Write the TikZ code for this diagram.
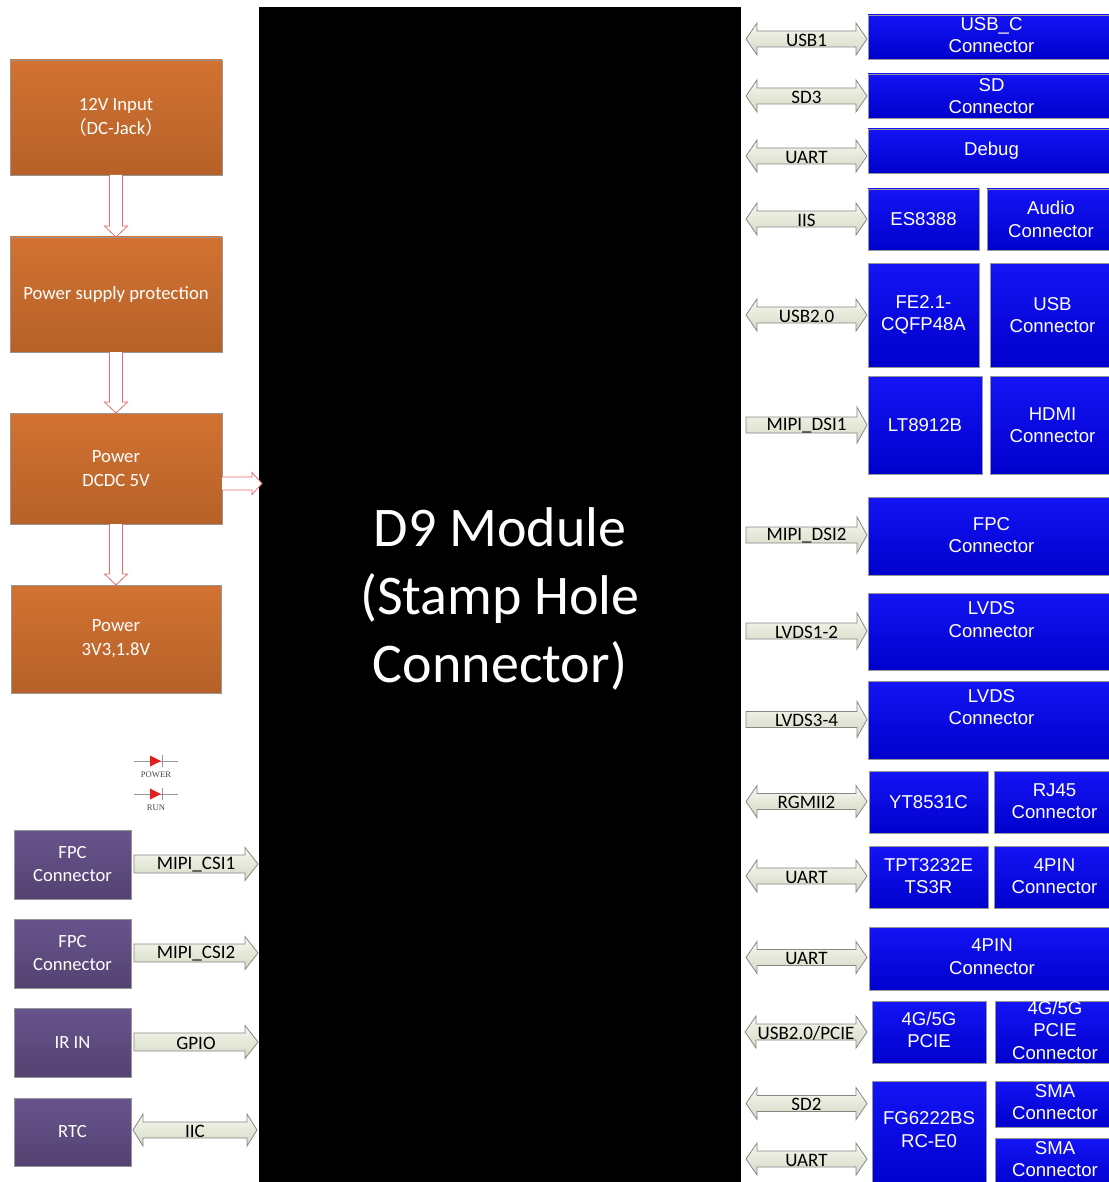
\documentclass[tikz,border=0pt]{standalone}
\usepackage{fontspec}
\setmainfont{Carlito}
\newfontfamily\arialf{Liberation Sans}
\newfontfamily\timesf{Liberation Serif}
\newfontfamily\cjkf{Noto Sans CJK SC}
\usetikzlibrary{calc,fit}
\definecolor{orT}{RGB}{210,114,50}
\definecolor{orB}{RGB}{182,97,40}
\definecolor{puT}{RGB}{104,84,140}
\definecolor{puB}{RGB}{84,66,114}
\definecolor{blT}{RGB}{20,20,245}
\definecolor{blB}{RGB}{0,0,205}
\definecolor{arT}{RGB}{246,248,238}
\definecolor{arB}{RGB}{212,217,196}
\definecolor{arD}{RGB}{135,135,135}
\definecolor{hol}{RGB}{232,110,110}
\definecolor{bord}{RGB}{150,150,150}
\definecolor{ledgray}{RGB}{150,150,150}
\definecolor{ledred}{RGB}{225,30,30}
\definecolor{ledtxt}{RGB}{70,70,70}
\tikzset{
  boxbase/.style={inner sep=0pt, outer sep=0pt, draw=bord, line width=0.7pt},
  obox/.style={boxbase, top color=orT, bottom color=orB},
  pbox/.style={boxbase, top color=puT, bottom color=puB},
  bbox/.style={boxbase, top color=blT, bottom color=blB},
  oboxtxt/.style={text=white, align=center, font=\fontsize{18.7}{24}\selectfont, inner sep=0pt},
  pboxtxt/.style={text=white, align=center, font=\fontsize{18.6}{23}\selectfont, inner sep=0pt},
  bboxtxt/.style={text=white, align=center, font=\arialf\fontsize{18.6}{22.5}\selectfont, inner sep=0pt},
  blockarrow/.style={draw=arD, line width=0.8pt, top color=arT, bottom color=arB, line join=miter},
  arrowlabel/.style={font=\fontsize{19}{20}\selectfont, inner sep=0pt},
  hollow/.style={draw=hol, fill=white, line width=0.8pt},
  ledline/.style={draw=ledgray, line width=0.8pt},
  ledlabel/.style={font=\timesf\fontsize{8.6}{9}\selectfont, text=ledtxt, inner sep=0pt},
}
% box: name, style, corner1, corner2, text, text yshift
\newcommand\bx[6]{%
  \node[#2, fit={(#3) (#4)}] (#1) {};
  \node[#2txt] (#1-t) at ([yshift=#6]#1.center) {#5};}
% double block arrow: name, left tip, right tip, y, text, body half, head half, head length
\newcommand\DA[8]{%
  \path[blockarrow] let \p1=(#2), \p2=(#3), \p3=(0,#4) in
    (\x1,\y3) -- (\x1+#8pt,\y3+#7pt) -- (\x1+#8pt,\y3+#6pt) -- (\x2-#8pt,\y3+#6pt)
    -- (\x2-#8pt,\y3+#7pt) -- (\x2,\y3) -- (\x2-#8pt,\y3-#7pt) -- (\x2-#8pt,\y3-#6pt)
    -- (\x1+#8pt,\y3-#6pt) -- (\x1+#8pt,\y3-#7pt) -- cycle;
  \path let \p1=(#2), \p2=(#3), \p3=(0,#4) in
    node[arrowlabel] (#1) at ({(\x1+\x2)/2},\y3-1pt) {#5};}
% single block arrow (pointing right)
\newcommand\SA[8]{%
  \path[blockarrow] let \p1=(#2), \p2=(#3), \p3=(0,#4) in
    (\x1,\y3+#6pt) -- (\x2-#8pt,\y3+#6pt) -- (\x2-#8pt,\y3+#7pt) -- (\x2,\y3)
    -- (\x2-#8pt,\y3-#7pt) -- (\x2-#8pt,\y3-#6pt) -- (\x1,\y3-#6pt) -- cycle;
  \path let \p1=(#2), \p2=(#3), \p3=(0,#4) in
    node[arrowlabel] (#1) at ({(\x1+\x2)/2},\y3-1pt) {#5};}
% hollow vertical arrow between two boxes
\newcommand\HV[2]{%
  \path[hollow] let \p1=(#1.south), \p2=(#2.north) in
    (\x1-6.5pt,\y1) -- (\x1-6.5pt,\y2+11pt) -- (\x1-11.5pt,\y2+11pt) -- (\x1,\y2)
    -- (\x1+11.5pt,\y2+11pt) -- (\x1+6.5pt,\y2+11pt) -- (\x1+6.5pt,\y1);}
% LED symbol: coordinate name, label
\newcommand\LED[2]{%
  \draw[ledline] ([xshift=-22pt]#1) -- ([xshift=22pt]#1);
  \fill[ledred] ([xshift=-6pt,yshift=5.5pt]#1) -- ([xshift=5pt]#1) -- ([xshift=-6pt,yshift=-5.5pt]#1) -- cycle;
  \draw[ledline] ([xshift=6pt,yshift=6pt]#1) -- ([xshift=6pt,yshift=-6pt]#1);
  \node[ledlabel] (#1-t) at ([yshift=-13.5pt]#1) {#2};}
\begin{document}
\begin{tikzpicture}[x=1pt,y=-1pt]
\useasboundingbox (0,0) rectangle (1108,1182);
\fill[white] (0,0) rectangle (1108,1182);

% core module
\node[fill=black, inner sep=0pt, outer sep=0pt, fit={(259,7) (741,1195)}] (core) {};
\node[text=white, align=center, font=\fontsize{56}{68}\selectfont, inner sep=0pt] (title) at (500,599)
  {D9 Module\\(Stamp Hole\\Connector)};

% power chain
\bx{o1}{obox}{10,60}{222,175}{12V Input\\{\cjkf （}DC-Jack{\cjkf ）}}{0pt}
\bx{o2}{obox}{10,237}{222,352}{Power supply protection}{0pt}
\bx{o3}{obox}{10,413}{222,524}{Power\\DCDC 5V}{0pt}
\bx{o4}{obox}{11,585}{221,693}{Power\\3V3,1.8V}{0pt}
\HV{o1}{o2}
\HV{o2}{o3}
\HV{o3}{o4}
\path[hollow] let \p1=([yshift=-15pt]o3.east), \p2=([xshift=3pt]core.west) in
  (\x1,\y1+6.5pt) -- (\x2-10pt,\y1+6.5pt) -- (\x2-10pt,\y1+11pt) -- (\x2,\y1)
  -- (\x2-10pt,\y1-11pt) -- (\x2-10pt,\y1-6.5pt) -- (\x1,\y1-6.5pt);

% LEDs
\coordinate (led1) at (156,761);
\coordinate (led2) at (156,794);
\LED{led1}{POWER}
\LED{led2}{RUN}

% left peripherals
\bx{p1}{pbox}{14,830}{131,899}{FPC\\Connector}{0pt}
\bx{p2}{pbox}{14,919}{131,988}{FPC\\Connector}{0pt}
\bx{p3}{pbox}{14,1008}{131,1077}{IR IN}{0pt}
\bx{p4}{pbox}{14,1098}{131,1166}{RTC}{0pt}
\SA{l1}{[xshift=3pt]p1.east}{[xshift=-1pt]core.west}{864}{MIPI\_CSI1}{9}{16.5}{13}
\SA{l2}{[xshift=3pt]p2.east}{[xshift=-1pt]core.west}{953}{MIPI\_CSI2}{9}{16.5}{13}
\SA{l3}{[xshift=3pt]p3.east}{[xshift=-1pt]core.west}{1042}{GPIO}{9}{16.5}{13}
\DA{l4}{[xshift=2pt]p4.east}{[xshift=-2pt]core.west}{1130}{IIC}{8}{16}{10}

% right peripherals
\bx{b1}{bbox}{868,15}{1115,59}{USB\_C\\Connector}{2pt}
\bx{b2}{bbox}{868,74}{1115,118}{SD\\Connector}{0pt}
\bx{b3}{bbox}{868,129}{1115,173}{Debug}{0pt}
\bx{b4a}{bbox}{868,189}{979,250}{ES8388}{0pt}
\bx{b4b}{bbox}{987,189}{1115,250}{Audio\\Connector}{0pt}
\bx{b5a}{bbox}{868,263}{979,367}{FE2.1-\\CQFP48A}{0pt}
\bx{b5b}{bbox}{990,263}{1115,367}{USB\\Connector}{0pt}
\bx{b6a}{bbox}{868,376}{982,474}{LT8912B}{0pt}
\bx{b6b}{bbox}{990,376}{1115,474}{HDMI\\Connector}{0pt}
\bx{b7}{bbox}{868,497}{1115,575}{FPC\\Connector}{1pt}
\bx{b8}{bbox}{868,593}{1115,670}{LVDS\\Connector}{12pt}
\bx{b9}{bbox}{868,681}{1115,759}{LVDS\\Connector}{13pt}
\bx{b10a}{bbox}{869,771}{988,833}{YT8531C}{0pt}
\bx{b10b}{bbox}{994,771}{1115,833}{RJ45\\Connector}{1pt}
\bx{b11a}{bbox}{869,846}{988,908}{TPT3232E\\TS3R}{1pt}
\bx{b11b}{bbox}{994,846}{1115,908}{4PIN\\Connector}{1pt}
\bx{b12}{bbox}{869,927}{1115,990}{4PIN\\Connector}{2pt}
\bx{b13a}{bbox}{872,1001}{986,1063}{4G/5G\\PCIE}{2pt}
\bx{b13b}{bbox}{995,1001}{1115,1063}{4G/5G\\PCIE\\Connector}{2pt}
\bx{b14a}{bbox}{872,1081}{986,1190}{FG6222BS\\RC-E0}{6pt}
\bx{b14b}{bbox}{995,1081}{1115,1127}{SMA\\Connector}{2pt}
\bx{b14c}{bbox}{995,1138}{1115,1190}{SMA\\Connector}{5pt}

\coordinate (ltip) at ([xshift=5pt]core.east);
\coordinate (rtip) at ([xshift=-1pt]b1.west);
\DA{a1}{ltip}{rtip}{39}{USB1}{8}{16}{11}
\DA{a2}{ltip}{rtip}{96}{SD3}{8}{16}{11}
\DA{a3}{ltip}{rtip}{156}{UART}{8}{16}{11}
\DA{a4}{ltip}{rtip}{219}{IIS}{8}{16}{11}
\DA{a5}{ltip}{rtip}{315}{USB2.0}{8}{16}{11}
\SA{a6}{ltip}{rtip}{425}{MIPI\_DSI1}{8}{18}{10}
\SA{a7}{ltip}{rtip}{535}{MIPI\_DSI2}{8}{18}{10}
\SA{a8}{ltip}{rtip}{631}{LVDS1-2}{8}{18}{10}
\SA{a9}{ltip}{rtip}{719.5}{LVDS3-4}{8}{18}{10}
\DA{a10}{ltip}{rtip}{801.5}{RGMII2}{8}{16}{11}
\DA{a11}{ltip}{rtip}{876}{UART}{8}{16}{11}
\DA{a12}{ltip}{rtip}{957.5}{UART}{8}{16}{11}
\DA{a13}{[xshift=-1pt]ltip}{rtip}{1032}{USB2.0/PCIE}{8}{16}{11}
\DA{a14}{ltip}{rtip}{1103.5}{SD2}{8}{16}{11}
\DA{a15}{ltip}{rtip}{1159}{UART}{8}{16}{11}
\end{tikzpicture}
\end{document}
